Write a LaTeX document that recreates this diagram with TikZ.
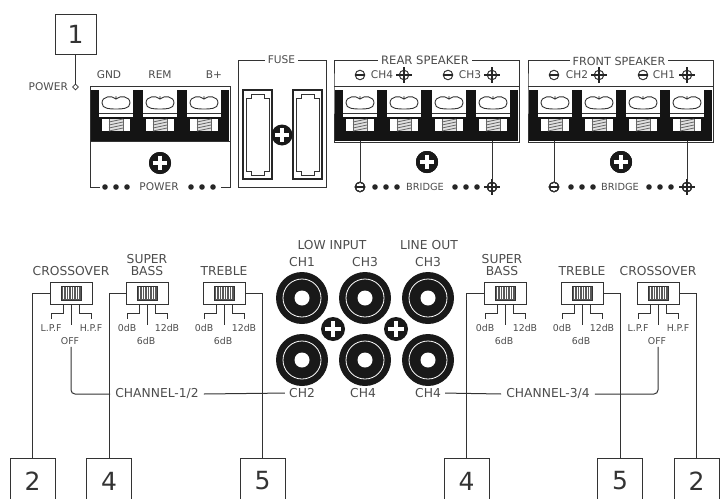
\documentclass[tikz,border=0pt]{standalone}
\usepackage{fontspec}
\setmainfont{DejaVu Sans}
\usetikzlibrary{shapes.geometric}
\usetikzlibrary{positioning,calc}

\newcommand{\screwhead}[4]{
	\node[screwdot, minimum size=#4*2pt] (#1) at (#2,#3) {};
	\draw[white, line width=#4*0.3pt] ($(#1.center)+(-#4*0.68,0)$) -- ($(#1.center)+(#4*0.68,0)$);
	\draw[white, line width=#4*0.3pt] ($(#1.center)+(0,-#4*0.68)$) -- ($(#1.center)+(0,#4*0.68)$);
}
\newcommand{\terminal}[1]{
	\begin{scope}[shift={(#1,90)}]
		\fill[white] (0,0) rectangle (34,27);
		\draw[partline] (17,9) .. controls (13,5) and (3,6) .. (3,13) .. controls (3,19) and (11,19) .. (17,19) .. controls (23,19) and (31,19) .. (31,13) .. controls (31,6) and (21,5) .. (17,9) -- (17,6);
		\draw[partline] (0,23) -- (34,23);
		\fill[white] (3,29) rectangle (31,41);
		\fill[black!12] (10,29) rectangle (24,41);
		\draw[black!60, line width=0.6pt] (10,29) -- (10,41) (24,29) -- (24,41);
		\foreach \hy in {32,35,38,41}
			\draw[black!60, line width=0.8pt] (10,\hy) -- (24,\hy-3);
	\end{scope}
}
\newcommand{\threedots}[1]{
	\foreach \dx in {0,11,22}
		\fill[black!85] (#1+\dx,187) circle (2.8);
}
\newcommand{\minussign}[3]{
	\node[polmark] (#1) at (#2,#3) {};
	\draw[polline] (#1.west) -- (#1.east);
}
\newcommand{\plussign}[3]{
	\node[polmark] (#1) at (#2,#3) {};
	\draw[polline] ($(#1.west)+(-2.5,0)$) -- ($(#1.east)+(2.5,0)$);
	\draw[polline] ($(#1.north)+(0,-2.5)$) -- ($(#1.south)+(0,2.5)$);
}
\newcommand{\fuseholder}[1]{
	\begin{scope}[shift={(#1,90)}]
		\draw[line width=1.3pt, black!85] (0,0) rectangle (29,89);
		\draw[partline] (3,8) -- (8,8) -- (8,4) -- (21,4) -- (21,8) -- (26,8) -- (26,81) -- (21,81) -- (21,85) -- (8,85) -- (8,81) -- (3,81) -- cycle;
	\end{scope}
}
\newcommand{\slideswitch}[5]{
	\node[switchbox] (#1) at (#2,293) {};
	\node[sliderbox] (#1slider) at (#1.center) {};
	\begin{scope}[shift={(#2,293)}]
		\foreach \sx in {-7.5,-5,...,7.5}
			\draw[white, line width=0.6pt] (\sx,-6) -- (\sx,6);
		\draw[partline] (-8,11) -- (-8,20) -- (-20,20) -- (-20,26);
		\draw[partline] (0,11) -- (0,32);
		\draw[partline] (8,11) -- (8,20) -- (20,20) -- (20,26);
	\end{scope}
	\node[txtsmall] (#1left) at (#2-20,328) {#3};
	\node[txtsmall] (#1right) at (#2+20,328) {#4};
	\node[txtsmall] (#1mid) at (#2-1,341) {#5};
}

\begin{document}
\begin{tikzpicture}[
  x=1pt, y=-1pt,
  partline/.style={draw=black!80, line width=0.9pt},
  polline/.style={draw=black!85, line width=1.2pt},
  wire/.style={draw=black!80, line width=1pt},
  txtbig/.style={font=\fontsize{12.3}{12.3}\selectfont, text=black!70, inner sep=1pt},
  txtmid/.style={font=\fontsize{10.6}{10.6}\selectfont, text=black!70, inner sep=1pt},
  txtsmall/.style={font=\fontsize{9.4}{9.4}\selectfont, text=black!70, inner sep=0pt},
  gaplabel/.style={fill=white, inner xsep=3pt, inner ysep=1pt},
  tagbox/.style={rectangle, draw=black!80, line width=0.9pt, minimum width=45pt, minimum height=46pt, inner sep=0pt, font=\fontsize{25}{25}\selectfont, text=black!80},
  switchbox/.style={rectangle, draw=black!80, line width=0.9pt, fill=white, minimum width=42pt, minimum height=22pt, inner sep=0pt},
  sliderbox/.style={rectangle, draw=black!80, line width=0.8pt, fill=black!65, minimum width=20pt, minimum height=14pt, inner sep=0pt},
  jack/.style={circle, fill=black!90, minimum size=52pt, inner sep=0pt},
  screwdot/.style={circle, fill=black!90, inner sep=0pt},
  polmark/.style={circle, draw=black!80, line width=1pt, minimum size=9.5pt, inner sep=0pt},
  blockfill/.style={rectangle, fill=black!92, inner sep=0pt, minimum height=51pt}
]
	\useasboundingbox (0,0) rectangle (720,498);
	\clip (0,0) rectangle (720,498);

	\node[tagbox, minimum width=41pt, minimum height=40pt] (tag1) at (75.5,34) {1};
	\node[diamond, draw=black!80, line width=0.8pt, minimum size=6pt, inner sep=0pt] (powerpin) at (75.5,87) {};
	\node[txtmid, left=3pt of powerpin] (powerlabel) {POWER};
	\draw[wire] (tag1.south) -- (powerpin.north);

	\node[txtmid] (gnd) at (109,75) {GND};
	\node[txtmid, right of=gnd, node distance=51pt] (rem) {REM};
	\node[txtmid, right of=rem, node distance=54pt] (bplus) {B+};
	\node[blockfill, minimum width=138pt] (powerblock) at (160,115.5) {};
	\draw[partline] (90,86) rectangle (230,141);
	\foreach \tx in {99,143,187} \terminal{\tx}
	\screwhead{powerscrew}{160}{163}{11}
	\draw[partline] (90,141) -- (90,187) -- (100,187);
	\draw[partline] (230,141) -- (230,187) -- (221,187);
	\threedots{105}
	\node[txtmid] (powerbottom) at (159,187) {POWER};
	\threedots{191}

	\draw[partline] (238,60) rectangle (326,187);
	\node[txtmid, gaplabel] (fuse) at (281.5,60) {FUSE};
	\fuseholder{243}
	\fuseholder{293}
	\screwhead{fusescrew}{282}{135}{10.5}

	\draw[partline] (334,86) -- (334,60) -- (519,60) -- (519,142) -- (334,142) -- cycle;
	\draw[partline] (334,86) -- (519,86);
	\node[txtmid, gaplabel, font=\fontsize{11.6}{11.6}\selectfont] (rearlabel) at (425,60) {REAR SPEAKER};
	\node[txtmid] (rearch4) at (382,75) {CH4};
	\node[txtmid] (rearch3) at (470,75) {CH3};
	\minussign{rearminusa}{360}{75}
	\plussign{rearplusa}{404}{75}
	\minussign{rearminusb}{448}{75}
	\plussign{rearplusb}{492}{75}
	\node[blockfill, minimum width=183pt] (rearblock) at (426.5,115.5) {};
	\foreach \tx in {343,387,432,476} \terminal{\tx}
	\screwhead{rearscrew}{427}{162}{11}
	\minussign{rearminus}{360}{187}
	\plussign{rearplus}{492}{187}
	\draw[wire] (rearminus.north) -- (rearminus.north |- rearblock.south);
	\draw[wire] (rearplus.north) -- (rearplus.north |- rearblock.south);
	\threedots{375}
	\node[txtsmall, font=\fontsize{9.8}{9.8}\selectfont] (rearbridge) at (425,187) {BRIDGE};
	\threedots{455}

	\draw[partline] (528,86) -- (528,60) -- (713,60) -- (713,142) -- (528,142) -- cycle;
	\draw[partline] (528,86) -- (713,86);
	\node[txtmid, gaplabel, font=\fontsize{11.2}{11.2}\selectfont] (frontlabel) at (619,61) {FRONT SPEAKER};
	\node[txtmid] (frontch2) at (577,75) {CH2};
	\node[txtmid] (frontch1) at (664,75) {CH1};
	\minussign{frontminusa}{554}{75}
	\plussign{frontplusa}{599}{75}
	\minussign{frontminusb}{643}{75}
	\plussign{frontplusb}{687}{75}
	\node[blockfill, minimum width=183pt] (frontblock) at (620.5,115.5) {};
	\foreach \tx in {538,582,626,670} \terminal{\tx}
	\screwhead{frontscrew}{621}{162}{11}
	\minussign{frontminus}{554}{187}
	\plussign{frontplus}{687}{187}
	\draw[wire] (frontminus.north) -- (frontminus.north |- frontblock.south);
	\draw[wire] (frontplus.north) -- (frontplus.north |- frontblock.south);
	\threedots{571}
	\node[txtsmall, font=\fontsize{9.8}{9.8}\selectfont] (frontbridge) at (620,187) {BRIDGE};
	\threedots{649}

	\node[jack] (jackA) at (302,298) {};
	\node[jack, right of=jackA, node distance=63pt] (jackB) {};
	\node[jack, right of=jackB, node distance=63pt] (jackC) {};
	\node[jack, below of=jackA, node distance=62pt] (jackD) {};
	\node[jack, right of=jackD, node distance=63pt] (jackE) {};
	\node[jack, right of=jackE, node distance=63pt] (jackF) {};
	\foreach \jk in {jackA,jackB,jackC,jackD,jackE,jackF} {
		\draw[white, line width=0.8pt] (\jk.center) circle (19pt);
		\fill[white] (\jk.center) circle (7.5pt);
	}
	\screwhead{jackscrewA}{333}{329}{12}
	\screwhead{jackscrewB}{396}{329}{12}

	\node[txtbig, above of=jackA, node distance=36pt] (chA) {CH1};
	\node[txtbig, above of=jackB, node distance=36pt] (chB) {CH3};
	\node[txtbig, above of=jackC, node distance=36pt] (chC) {CH3};
	\node[txtbig, below of=jackD, node distance=33pt] (chD) {CH2};
	\node[txtbig, below of=jackE, node distance=33pt, xshift=-2pt] (chE) {CH4};
	\node[txtbig, below of=jackF, node distance=33pt] (chF) {CH4};
	\node[txtbig, above of=chA, node distance=17pt, xshift=30pt] (lowinput) {LOW INPUT};
	\node[txtbig, above of=chC, node distance=17pt, xshift=1pt] (lineout) {LINE OUT};

	\slideswitch{crossA}{71}{L.P.F}{H.P.F}{OFF}
	\slideswitch{bassA}{147}{0dB}{12dB}{6dB}
	\slideswitch{trebleA}{224}{0dB}{12dB}{6dB}
	\slideswitch{bassB}{505}{0dB}{12dB}{6dB}
	\slideswitch{trebleB}{582}{0dB}{12dB}{6dB}
	\slideswitch{crossB}{658}{L.P.F}{H.P.F}{OFF}

	\node[txtbig, above of=crossA, node distance=22pt] (crossAlabel) {CROSSOVER};
	\node[txtbig, above of=bassA, node distance=22pt] (bassAlabel) {BASS};
	\node[txtbig, above of=bassAlabel, node distance=12pt] (bassAtop) {SUPER};
	\node[txtbig, above of=trebleA, node distance=22pt] (trebleAlabel) {TREBLE};
	\node[txtbig, above of=bassB, node distance=22pt, xshift=-3pt] (bassBlabel) {BASS};
	\node[txtbig, above of=bassBlabel, node distance=12pt] (bassBtop) {SUPER};
	\node[txtbig, above of=trebleB, node distance=22pt] (trebleBlabel) {TREBLE};
	\node[txtbig, above of=crossB, node distance=22pt] (crossBlabel) {CROSSOVER};

	\node[txtbig, inner xsep=5pt] (channelA) at (157,394) {CHANNEL-1/2};
	\node[txtbig, inner xsep=5pt] (channelB) at (548,394) {CHANNEL-3/4};

	\node[tagbox] (tagA) at (32.5,481) {2};
	\node[tagbox] (tagB) at (109,481) {4};
	\node[tagbox] (tagC) at (262.5,481) {5};
	\node[tagbox] (tagD) at (466.5,481) {4};
	\node[tagbox] (tagE) at (620,481) {5};
	\node[tagbox] (tagF) at (696.5,481) {2};

	\draw[wire] (tagA.north) |- (crossA.west);
	\draw[wire] (tagB.north) |- (bassA.west);
	\draw[wire] (tagC.north) |- (trebleA.east);
	\draw[wire] (tagD.north) |- (bassB.west);
	\draw[wire] (tagE.north) |- (trebleB.east);
	\draw[wire] (tagF.north) |- (crossB.east);

	\draw[wire, rounded corners=4pt] ($(crossAmid.south)+(1,2)$) |- (channelA.west);
	\draw[wire, shorten >=3pt] (channelA.east) -- (chD.west);
	\draw[wire, shorten <=3pt] (chF.east) -- (channelB.west);
	\draw[wire, rounded corners=4pt] (channelB.east) -| ($(crossBmid.south)+(1,2)$);
\end{tikzpicture}
\end{document}
